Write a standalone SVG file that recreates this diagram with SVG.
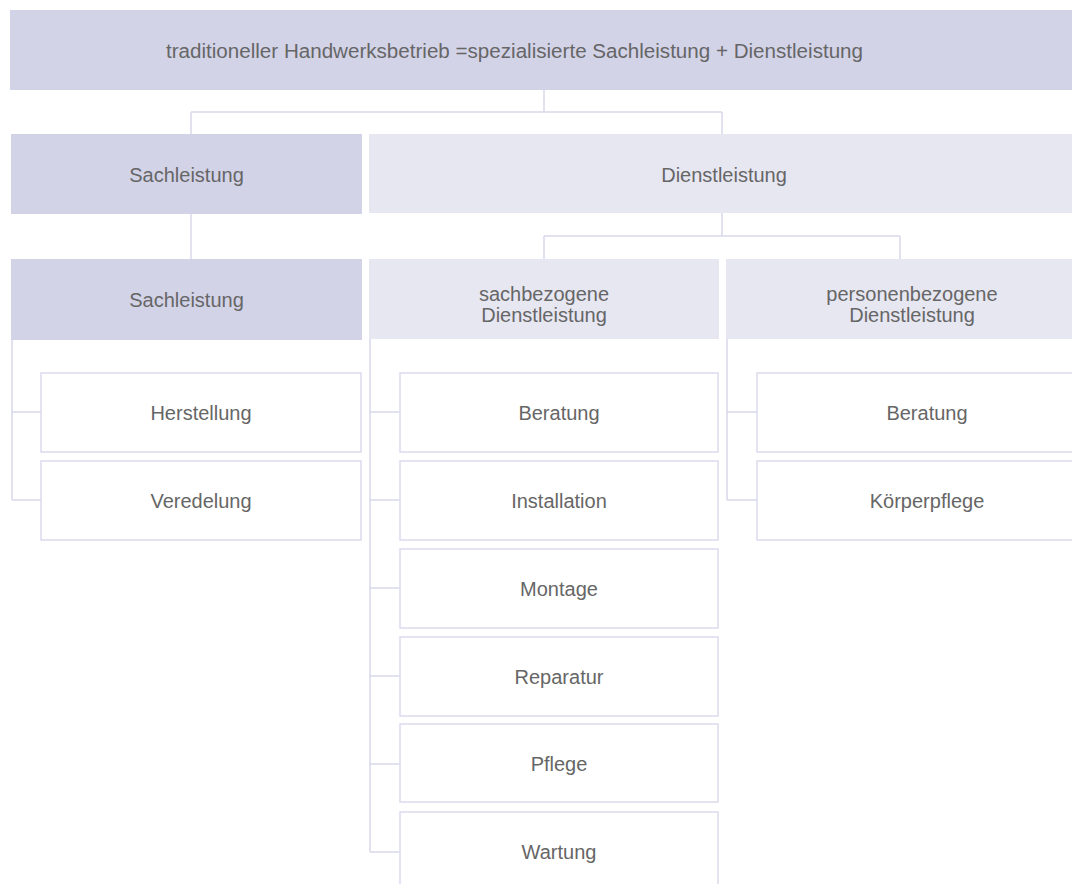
<svg xmlns="http://www.w3.org/2000/svg" width="1072" height="884" viewBox="0 0 1072 884">
<style>
.dark{fill:#d3d3e8}
.light{fill:#e7e7f2}
.leaf{fill:#ffffff;stroke:#dadaee;stroke-width:1.5}
.t{font-family:"Liberation Sans",Arial,Helvetica,sans-serif;font-size:20px;fill:#666666;text-anchor:middle}
.c{fill:none;stroke:#d8d8ec;stroke-width:1.5}
</style>
<rect x="0" y="0" width="1072" height="884" fill="#ffffff"/>
<g id="connectors">
<path class="c" d="M544,90 V112 M191,112 H722 M191,112 V134 M722,112 V134"/>
<path class="c" d="M191,214 V259"/>
<path class="c" d="M722,213 V236 M544,236 H900 M544,236 V259 M900,236 V259"/>
<path class="c" d="M12,340 V500 M12,412 H41 M12,500 H41"/>
<path class="c" d="M370,339 V852 M370,412 H400 M370,500 H400 M370,588 H400 M370,676 H400 M370,764 H400 M370,852 H400"/>
<path class="c" d="M727,339 V500 M727,412 H757 M727,500 H757"/>
</g>
<g id="root"><rect class="dark" x="10" y="10" width="1090" height="80"/><text class="t" x="514.5" y="58" textLength="697" lengthAdjust="spacingAndGlyphs">traditioneller Handwerksbetrieb =spezialisierte Sachleistung + Dienstleistung</text></g>
<g id="sachleistung1"><rect class="dark" x="11" y="134" width="351" height="80"/><text class="t" x="186.5" y="182">Sachleistung</text></g>
<g id="dienstleistung"><rect class="light" x="369" y="134" width="731" height="79"/><text class="t" x="724" y="182">Dienstleistung</text></g>
<g id="sachleistung2"><rect class="dark" x="11" y="259" width="351" height="81"/><text class="t" x="186.5" y="307">Sachleistung</text></g>
<g id="sachbezogen"><rect class="light" x="369" y="259" width="350" height="80"/><text class="t" x="544" y="301">sachbezogene</text><text class="t" x="544" y="322">Dienstleistung</text></g>
<g id="personenbezogen"><rect class="light" x="726" y="259" width="374" height="80"/><text class="t" x="912" y="301">personenbezogene</text><text class="t" x="912" y="322">Dienstleistung</text></g>
<g id="herstellung"><rect class="leaf" x="41" y="373" width="320" height="79"/><text class="t" x="201" y="420">Herstellung</text></g>
<g id="veredelung"><rect class="leaf" x="41" y="461" width="320" height="79"/><text class="t" x="201" y="508">Veredelung</text></g>
<g id="beratung1"><rect class="leaf" x="400" y="373" width="318" height="79"/><text class="t" x="559" y="420">Beratung</text></g>
<g id="installation"><rect class="leaf" x="400" y="461" width="318" height="79"/><text class="t" x="559" y="508">Installation</text></g>
<g id="montage"><rect class="leaf" x="400" y="549" width="318" height="79"/><text class="t" x="559" y="596">Montage</text></g>
<g id="reparatur"><rect class="leaf" x="400" y="637" width="318" height="79"/><text class="t" x="559" y="684">Reparatur</text></g>
<g id="pflege"><rect class="leaf" x="400" y="724" width="318" height="78"/><text class="t" x="559" y="771">Pflege</text></g>
<g id="wartung"><rect class="leaf" x="400" y="812" width="318" height="90"/><text class="t" x="559" y="859">Wartung</text></g>
<g id="beratung2"><rect class="leaf" x="757" y="373" width="340" height="79"/><text class="t" x="927" y="420">Beratung</text></g>
<g id="koerperpflege"><rect class="leaf" x="757" y="461" width="340" height="79"/><text class="t" x="927" y="508">Körperpflege</text></g>
</svg>
